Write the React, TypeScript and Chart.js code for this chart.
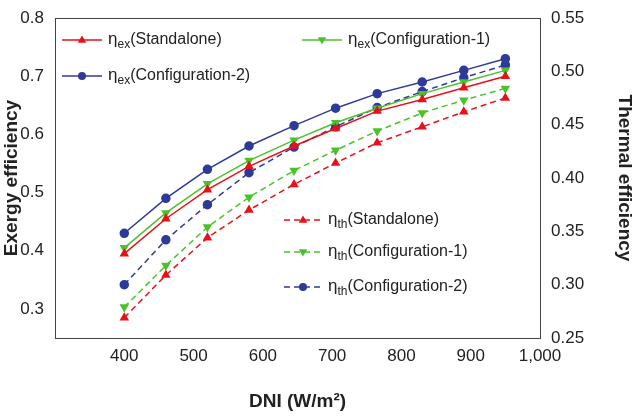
import React, { useEffect, useRef } from "react";
import { Chart, registerables } from "chart.js";
Chart.register(...registerables);

const dni = [400, 460, 520, 580, 645, 705, 765, 830, 890, 950];
const exStandalone = [0.395, 0.455, 0.505, 0.545, 0.58, 0.61, 0.64, 0.66, 0.68, 0.70];
const exConfig1 = [0.405, 0.465, 0.515, 0.555, 0.59, 0.62, 0.645, 0.67, 0.69, 0.71];
const exConfig2 = [0.43, 0.49, 0.54, 0.58, 0.615, 0.645, 0.67, 0.69, 0.71, 0.73];
const thStandalone = [0.269, 0.309, 0.344, 0.37, 0.394, 0.414, 0.433, 0.448, 0.462, 0.475];
const thConfig1 = [0.279, 0.318, 0.354, 0.382, 0.407, 0.426, 0.444, 0.461, 0.473, 0.484];
const thConfig2 = [0.30, 0.342, 0.375, 0.405, 0.429, 0.448, 0.466, 0.481, 0.494, 0.506];
const leftTicks = [0.3, 0.4, 0.5, 0.6, 0.7, 0.8];
const rightTicks = [0.25, 0.3, 0.35, 0.4, 0.45, 0.5, 0.55];
const xTicks = [400, 500, 600, 700, 800, 900, 1000];

const RED = "#e8101a", GREEN = "#4cc22a", BLUE = "#2e3a9a";
const FONT = "Liberation Sans, Arial, sans-serif";

function ds(label: string, data: number[], color: string, style: string, axis: string, dashed: boolean, down: boolean) {
  return {
    label, data: dni.map((x, i) => ({ x, y: data[i] })), borderColor: color, backgroundColor: color,
    pointStyle: style, pointRadius: 4, borderWidth: 1.5, yAxisID: axis, borderDash: dashed ? [6, 4] : [],
    pointRotation: down ? 180 : 0,
  };
}

function marker(ctx: CanvasRenderingContext2D, s: string, down: boolean, x: number, y: number) {
  ctx.beginPath();
  if (s === "circle") {
    ctx.arc(x, y, 4, 0, Math.PI * 2);
  } else {
    const r = 4.5, k = down ? -1 : 1;
    ctx.moveTo(x, y - k * r);
    ctx.lineTo(x + r * 0.95, y + k * r * 0.6);
    ctx.lineTo(x - r * 0.95, y + k * r * 0.6);
    ctx.closePath();
  }
  ctx.fill();
}

const legendPlugin = {
  id: "customLegend",
  afterDraw(chart: any) {
    const ctx = chart.ctx as CanvasRenderingContext2D;
    const items = [
      { x: 62, y: 40, c: RED, s: "triangle", dn: false, sub: "ex", t: "(Standalone)", d: false },
      { x: 302, y: 40, c: GREEN, s: "triangle", dn: true, sub: "ex", t: "(Configuration-1)", d: false },
      { x: 62, y: 76, c: BLUE, s: "circle", dn: false, sub: "ex", t: "(Configuration-2)", d: false },
      { x: 284, y: 220, c: RED, s: "triangle", dn: false, sub: "th", t: "(Standalone)", d: true },
      { x: 284, y: 252, c: GREEN, s: "triangle", dn: true, sub: "th", t: "(Configuration-1)", d: true },
      { x: 284, y: 287, c: BLUE, s: "circle", dn: false, sub: "th", t: "(Configuration-2)", d: true },
    ];
    ctx.save();
    for (const it of items) {
      const len = it.d ? 38 : 40;
      ctx.strokeStyle = it.c; ctx.fillStyle = it.c; ctx.lineWidth = 1.5;
      ctx.setLineDash(it.d ? [6, 4] : []);
      ctx.beginPath(); ctx.moveTo(it.x, it.y); ctx.lineTo(it.x + len, it.y); ctx.stroke();
      ctx.setLineDash([]);
      marker(ctx, it.s, it.dn, it.x + len / 2, it.y);
      ctx.fillStyle = "#222";
      let tx = it.x + len + 6;
      ctx.textBaseline = "middle";
      ctx.font = `17px ${FONT}`;
      ctx.fillText("η", tx, it.y - 1); tx += ctx.measureText("η").width;
      ctx.font = `12px ${FONT}`;
      ctx.fillText(it.sub, tx, it.y + 5); tx += ctx.measureText(it.sub).width;
      ctx.font = `16px ${FONT}`;
      ctx.fillText(it.t, tx, it.y);
    }
    ctx.restore();
  },
};

export default function App() {
  const ref = useRef<HTMLCanvasElement>(null);
  useEffect(() => {
    document.body.style.margin = "0";
    const chart = new Chart(ref.current!, {
      type: "line",
      data: {
        datasets: [
          ds("exS", exStandalone, RED, "triangle", "y", false, false),
          ds("ex1", exConfig1, GREEN, "triangle", "y", false, true),
          ds("ex2", exConfig2, BLUE, "circle", "y", false, false),
          ds("thS", thStandalone, RED, "triangle", "y1", true, false),
          ds("th1", thConfig1, GREEN, "triangle", "y1", true, true),
          ds("th2", thConfig2, BLUE, "circle", "y1", true, false),
        ] as any,
      },
      options: {
        animation: false, responsive: false, maintainAspectRatio: false,
        layout: { padding: { top: 18, right: 0, left: 0, bottom: 0 } },
        plugins: { legend: { display: false }, tooltip: { enabled: false } },
        scales: {
          x: {
            type: "linear", min: 300, max: 1000,
            afterBuildTicks: (s: any) => { s.ticks = xTicks.map(v => ({ value: v })); },
            afterFit: (s: any) => { s.height = 79; },
            grid: { display: false, drawTicks: true, tickLength: 5, color: "#444" },
            border: { color: "#444", width: 1 },
            ticks: { color: "#222", font: { family: FONT, size: 17 } },
            title: { display: true, text: "DNI (W/m²)", color: "#222", font: { family: FONT, size: 19, weight: "bold" } },
          },
          y: {
            type: "linear", position: "left", min: 0.25, max: 0.8,
            afterBuildTicks: (s: any) => { s.ticks = leftTicks.map(v => ({ value: v })); },
            afterFit: (s: any) => { s.width = 55; },
            grid: { display: false }, border: { color: "#444" },
            ticks: { color: "#222", font: { family: FONT, size: 17 }, callback: (v: any) => Number(v).toFixed(1) },
            title: { display: true, text: "Exergy efficiency", color: "#222", padding: 0, font: { family: FONT, size: 19, weight: "bold" } },
          },
          y1: {
            type: "linear", position: "right", min: 0.25, max: 0.55,
            afterBuildTicks: (s: any) => { s.ticks = rightTicks.map(v => ({ value: v })); },
            afterFit: (s: any) => { s.width = 100; },
            grid: { display: false }, border: { color: "#444" },
            ticks: { color: "#222", font: { family: FONT, size: 17 }, callback: (v: any) => Number(v).toFixed(2) },
            title: { display: true, text: "Thermal efficiency", color: "#222", font: { family: FONT, size: 19, weight: "bold" } },
          },
        },
      } as any,
      plugins: [legendPlugin, {
        id: "topBorder",
        afterDraw(c: any) {
          const a = c.chartArea, ctx = c.ctx;
          ctx.save(); ctx.strokeStyle = "#444"; ctx.lineWidth = 1;
          ctx.beginPath(); ctx.moveTo(a.left, a.top + 0.5); ctx.lineTo(a.right, a.top + 0.5); ctx.stroke(); ctx.restore();
        },
      }],
    });
    return () => chart.destroy();
  }, []);
  return <canvas ref={ref} width={640} height={417} style={{ display: "block" }} />;
}
